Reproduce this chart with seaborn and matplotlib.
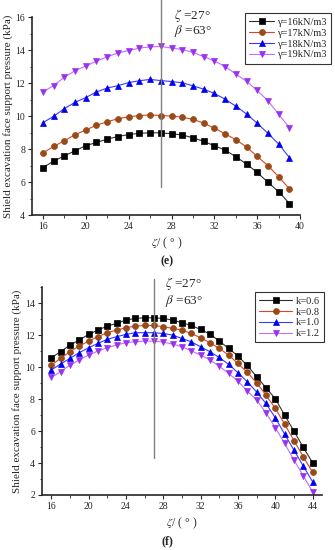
import numpy as np
import pandas as pd
import matplotlib
matplotlib.use("Agg")
import matplotlib.pyplot as plt
import seaborn as sns
from matplotlib.ticker import MultipleLocator

# --- data ---
zeta_e = list(range(16, 40))
gamma16 = [6.87, 7.27, 7.58, 7.90, 8.20, 8.40, 8.60, 8.76, 8.88, 8.95, 8.99, 8.98,
           8.93, 8.85, 8.69, 8.46, 8.20, 7.94, 7.53, 7.09, 6.58, 5.98, 5.41, 4.70]
gamma17 = [7.76, 8.16, 8.50, 8.87, 9.15, 9.45, 9.65, 9.84, 9.95, 10.03, 10.07, 10.03,
           10.00, 9.93, 9.80, 9.57, 9.27, 8.92, 8.57, 8.12, 7.55, 6.99, 6.32, 5.58]
gamma18 = [9.60, 9.98, 10.45, 10.83, 11.12, 11.46, 11.70, 11.84, 12.03, 12.14, 12.22, 12.15,
           12.09, 12.02, 11.83, 11.63, 11.37, 11.02, 10.60, 10.12, 9.56, 8.95, 8.30, 7.48]
gamma19 = [11.46, 11.85, 12.35, 12.75, 13.03, 13.33, 13.59, 13.82, 13.97, 14.12, 14.19, 14.22,
           14.12, 14.03, 13.86, 13.60, 13.34, 13.00, 12.55, 12.10, 11.55, 10.92, 10.10, 9.30]
gamma_labels = ["γ=16kN/m3", "γ=17kN/m3", "γ=18kN/m3", "γ=19kN/m3"]

zeta_f = list(range(16, 45))
k06 = [10.58, 10.96, 11.37, 11.69, 12.04, 12.31, 12.56, 12.73, 12.94, 13.04, 13.08, 13.08,
       13.04, 12.94, 12.77, 12.60, 12.35, 12.06, 11.63, 11.17, 10.69, 10.10, 9.40, 8.71,
       8.02, 7.00, 6.00, 4.98, 4.02]
k08 = [10.12, 10.54, 10.96, 11.31, 11.62, 11.90, 12.15, 12.31, 12.46, 12.56, 12.60, 12.60,
       12.52, 12.42, 12.31, 12.10, 11.83, 11.52, 11.17, 10.75, 10.23, 9.67, 9.02, 8.25,
       7.42, 6.44, 5.40, 4.40, 3.42]
k10 = [9.81, 10.19, 10.54, 10.90, 11.21, 11.48, 11.73, 11.90, 12.04, 12.15, 12.15, 12.15,
       12.10, 12.00, 11.79, 11.58, 11.27, 10.96, 10.60, 10.17, 9.65, 9.08, 8.44, 7.73,
       6.83, 5.81, 4.81, 3.81, 2.83]
k12 = [9.35, 9.71, 10.12, 10.44, 10.75, 11.00, 11.21, 11.38, 11.52, 11.58, 11.62, 11.62,
       11.56, 11.44, 11.27, 11.02, 10.75, 10.44, 10.06, 9.60, 9.12, 8.50, 7.94, 7.15,
       6.21, 5.23, 4.19, 3.19, 2.21]
k_labels = ["k=0.6", "k=0.8", "k=1.0", "k=1.2"]

zeta_opt = 27
# vertical reference line extent (data units) for each panel
vline_e = (5.7, 17.1)
vline_f = (4.3, 15.5)

# style per series: marker, line colour, marker face colour
styles = [
    ("s", "#303030", "#000000"),
    ("o", "#d8452a", "#9a4a16"),
    ("^", "#3a3aff", "#0000ee"),
    ("v", "#c070ff", "#9a30f0"),
]

sns.set_style("ticks")
plt.rcParams['font.family'] = ['Liberation Serif', 'DejaVu Serif']
plt.rcParams['mathtext.fontset'] = 'stix'

fig = plt.figure(figsize=(3.35, 5.5), dpi=100)


def draw_panel(ax, x, series, labels, xlim, ylim, yticks, xticks, vline,
               txt_x, txt_y, leg_anchor, leg_hl):
    for ys, lab, (mk, lc, mc) in zip(series, labels, styles):
        sns.lineplot(x=x, y=ys, ax=ax, label=lab, color=lc, linewidth=0.8,
                     marker=mk, markersize=4.3, markerfacecolor=mc,
                     markeredgecolor=mc, markeredgewidth=0.5)
    ax.plot([zeta_opt, zeta_opt], list(vline), color="#808080", lw=1.0, clip_on=False)
    ax.set_xlim(*xlim)
    ax.set_ylim(*ylim)
    ax.set_xticks(xticks)
    ax.set_yticks(yticks)
    ax.xaxis.set_minor_locator(MultipleLocator(2))
    ax.yaxis.set_minor_locator(MultipleLocator(1))
    ax.tick_params(which="major", direction="out", length=3, width=0.8, labelsize=7, pad=2)
    ax.tick_params(which="minor", direction="out", length=1.8, width=0.6)
    sns.despine(ax=ax)
    for s in ["left", "bottom"]:
        ax.spines[s].set_linewidth(1.2)
    ax.set_xlabel(r"$\zeta$/ ( ° )", fontsize=8.5, labelpad=3)
    ax.set_ylabel("Shield excavation face support pressure (kPa)", fontsize=8, labelpad=2)
    ax.text(txt_x, txt_y, r"$\zeta$ =27°", fontsize=9.5, va="center", clip_on=False)
    ax.text(txt_x, txt_y - (ylim[1] - ylim[0]) * 0.08, r"$\beta$ =63°",
            fontsize=9.5, va="center", clip_on=False)
    leg = ax.legend(loc="upper right", bbox_to_anchor=leg_anchor,
                    fontsize=7.5, frameon=True, fancybox=False, edgecolor="black",
                    handlelength=leg_hl, handletextpad=0.3, borderpad=0.4, labelspacing=0.15)
    leg.get_frame().set_linewidth(0.8)


ax1 = fig.add_axes([0.096, 0.609, 0.80, 0.36])
draw_panel(ax1, zeta_e, [gamma16, gamma17, gamma18, gamma19], gamma_labels,
           (15, 40), (4, 16), [4, 6, 8, 10, 12, 14, 16], [16, 20, 24, 28, 32, 36, 40],
           vline_e, 28.2, 16.1, (1.135, 1.045), 2.4)
fig.text(0.5, 0.525, "(e)", ha="center", va="center", fontsize=8.5, fontweight="bold")

ax2 = fig.add_axes([0.125, 0.10, 0.836, 0.378])
draw_panel(ax2, zeta_f, [k06, k08, k10, k12], k_labels,
           (15, 45), (2, 15), [2, 4, 6, 8, 10, 12, 14], [16, 20, 24, 28, 32, 36, 40, 44],
           vline_f, 28.2, 15.2, (1.025, 1.0), 3.2)
fig.text(0.5, 0.015, "(f)", ha="center", va="center", fontsize=8.5, fontweight="bold")

fig.savefig("out.png", dpi=100)
